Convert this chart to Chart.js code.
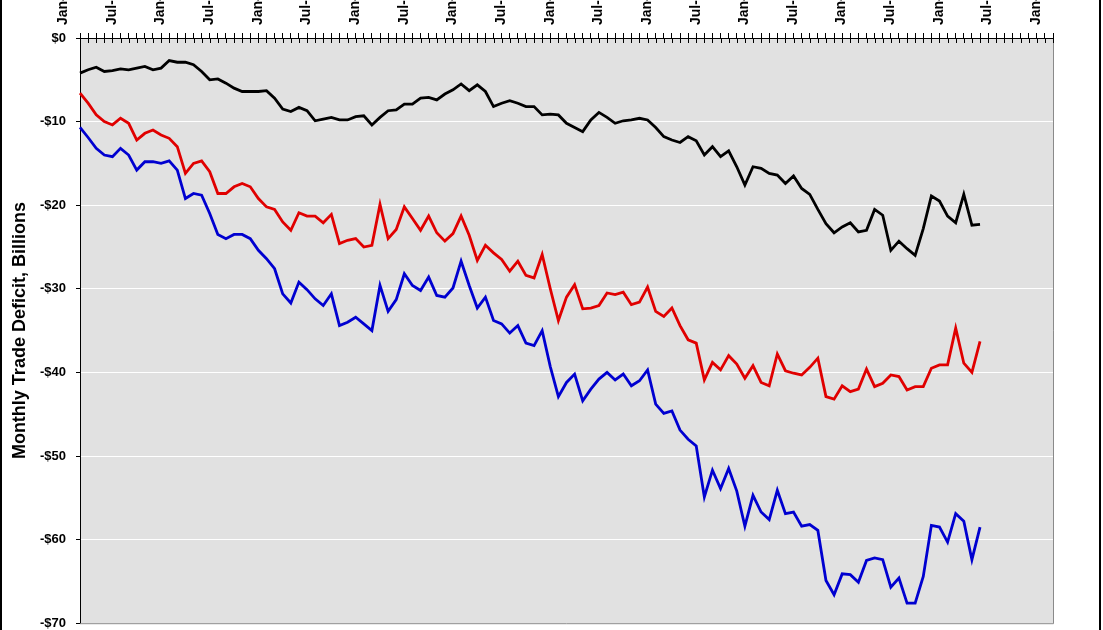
<!DOCTYPE html>
<html><head><meta charset="utf-8">
<script src="https://cdn.jsdelivr.net/npm/chart.js@4.4.1/dist/chart.umd.min.js"></script>
<style>
html,body{margin:0;padding:0;background:#fff;overflow:hidden;width:1103px;height:630px;}
#frame{position:absolute;left:0;top:-20px;width:1101px;height:680px;box-sizing:border-box;border:2px solid #000;}
#wrap{position:absolute;left:0;top:-40px;width:1103px;height:681px;}
</style></head><body>
<div id="frame"></div>
<div id="wrap"><canvas id="c"></canvas></div>
<script>
// Category axis: months Jan-98 .. Jan-08
const years = ['98','99','00','01','02','03','04','05','06','07','08'];
const monthNames = ['Jan','Feb','Mar','Apr','May','Jun','Jul','Aug','Sep','Oct','Nov','Dec'];
const categories = [];
years.forEach(y => monthNames.forEach(m => categories.push(m + '-' + y)));
categories.length = 121;

const yTicks = [0, -10, -20, -30, -40, -50, -60, -70];

// Monthly trade deficit, $ billions
const chinaDeficit = [
 -4.2,-3.8,-3.5,-4.0,-3.9,-3.7,-3.8,-3.6,-3.4,-3.8,-3.6,-2.7,
 -2.9,-2.9,-3.2,-4.0,-5.0,-4.9,-5.4,-6.0,-6.4,-6.4,-6.4,-6.3,
 -7.2,-8.5,-8.8,-8.3,-8.7,-9.9,-9.7,-9.5,-9.8,-9.8,-9.4,-9.3,
 -10.4,-9.5,-8.7,-8.6,-7.9,-7.9,-7.2,-7.1,-7.4,-6.7,-6.2,-5.5,
 -6.3,-5.6,-6.4,-8.2,-7.8,-7.5,-7.8,-8.2,-8.2,-9.2,-9.1,-9.2,
 -10.2,-10.7,-11.2,-9.8,-8.9,-9.5,-10.2,-9.9,-9.8,-9.6,-9.8,-10.7,
 -11.8,-12.2,-12.5,-11.8,-12.3,-14.0,-13.0,-14.2,-13.5,-15.4,-17.6,-15.4,
 -15.6,-16.2,-16.4,-17.4,-16.5,-18.0,-18.7,-20.5,-22.2,-23.3,-22.6,-22.1,
 -23.2,-23.0,-20.5,-21.2,-25.4,-24.3,-25.2,-26.0,-22.8,-18.9,-19.5,-21.3,
 -22.1,-18.7,-22.4,-22.3
];
const exChinaDeficit = [
 -6.6,-7.8,-9.2,-10.0,-10.4,-9.6,-10.2,-12.2,-11.4,-11.0,-11.6,-12.0,
 -13.0,-16.2,-15.0,-14.7,-16.0,-18.6,-18.6,-17.8,-17.4,-17.8,-19.2,-20.2,
 -20.5,-22.0,-23.0,-20.9,-21.3,-21.3,-22.1,-21.1,-24.6,-24.2,-24.0,-25.0,
 -24.8,-19.9,-24.0,-22.9,-20.2,-21.6,-23.0,-21.3,-23.3,-24.3,-23.4,-21.3,
 -23.6,-26.6,-24.8,-25.7,-26.5,-27.9,-26.7,-28.4,-28.7,-25.9,-30.0,-33.8,
 -31.0,-29.5,-32.4,-32.3,-32.0,-30.5,-30.7,-30.4,-31.9,-31.6,-29.8,-32.7,
 -33.3,-32.3,-34.4,-36.1,-36.5,-40.9,-38.8,-39.7,-38.0,-39.0,-40.7,-39.2,
 -41.2,-41.6,-37.8,-39.8,-40.1,-40.3,-39.4,-38.3,-42.9,-43.2,-41.6,-42.3,
 -42.0,-39.6,-41.7,-41.3,-40.3,-40.5,-42.1,-41.7,-41.7,-39.5,-39.1,-39.1,
 -34.7,-38.9,-40.0,-36.3
];
const totalDeficit = [
 -10.7,-11.9,-13.2,-14.0,-14.2,-13.2,-14.0,-15.8,-14.8,-14.8,-15.0,-14.7,
 -15.8,-19.2,-18.6,-18.8,-21.0,-23.5,-24.0,-23.5,-23.5,-24.0,-25.4,-26.4,
 -27.6,-30.6,-31.7,-29.2,-30.1,-31.2,-32.0,-30.6,-34.4,-34.0,-33.4,-34.2,
 -35.0,-29.6,-32.7,-31.3,-28.2,-29.6,-30.2,-28.6,-30.8,-31.0,-29.9,-26.7,
 -29.6,-32.3,-31.0,-33.8,-34.2,-35.3,-34.4,-36.5,-36.8,-35.0,-39.3,-42.9,
 -41.2,-40.2,-43.4,-42.0,-40.8,-40.0,-40.9,-40.2,-41.6,-41.0,-39.7,-43.8,
 -44.9,-44.6,-46.9,-48.0,-48.8,-54.9,-51.7,-53.9,-51.5,-54.2,-58.4,-54.7,
 -56.7,-57.6,-54.1,-56.9,-56.7,-58.4,-58.2,-58.9,-64.9,-66.6,-64.1,-64.2,
 -65.1,-62.5,-62.2,-62.4,-65.7,-64.6,-67.6,-67.6,-64.4,-58.3,-58.5,-60.3,
 -56.9,-57.8,-62.4,-58.5
];

const FONT = "'Liberation Sans', Arial, sans-serif";

const plotDecor = {
  id: 'plotDecor',
  beforeDraw(chart) {
    const {ctx, chartArea: a} = chart;
    ctx.save();
    ctx.fillStyle = '#e1e1e1';
    ctx.fillRect(a.left, a.top, a.right - a.left, a.bottom - a.top);
    ctx.restore();
  },
  beforeDatasetsDraw(chart) {
    const {ctx, chartArea: a} = chart;
    ctx.save();
    ctx.strokeStyle = '#8a8a8a';
    ctx.lineWidth = 1;
    ctx.beginPath();
    ctx.moveTo(a.right + 0.5, a.top);
    ctx.lineTo(a.right + 0.5, a.bottom + 0.5);
    ctx.lineTo(a.left, a.bottom + 0.5);
    ctx.stroke();
    // inner halves of the top-axis tick marks
    const xs = chart.scales.x;
    ctx.strokeStyle = '#000';
    ctx.beginPath();
    for (let i = 0; i < xs.ticks.length; i++) {
      const px = Math.round(xs.getPixelForTick(i)) + 0.5;
      ctx.moveTo(px, a.top);
      ctx.lineTo(px, a.top + 5);
    }
    ctx.stroke();
    ctx.restore();
  }
};

new Chart(document.getElementById('c'), {
  type: 'line',
  data: {
    labels: categories,
    datasets: [
      {label: 'Deficit with China', data: chinaDeficit, borderColor: '#000000'},
      {label: 'Deficit excluding China', data: exChinaDeficit, borderColor: '#e00000'},
      {label: 'Total deficit', data: totalDeficit, borderColor: '#0000d0'}
    ].map(d => Object.assign(d, {borderWidth: 2.8, pointRadius: 0, tension: 0, fill: false}))
  },
  options: {
    responsive: true,
    maintainAspectRatio: false,
    animation: false,
    layout: {padding: {left: 0, right: 50, top: 0, bottom: 8}},
    plugins: {legend: {display: false}, tooltip: {enabled: false}},
    scales: {
      x: {
        type: 'category',
        position: 'top',
        offset: false,
        afterFit(s) { s.height = 78; },
        border: {display: true, color: '#000', width: 1},
        grid: {display: true, drawOnChartArea: false, drawTicks: true, tickLength: 5, tickColor: '#000', color: '#000'},
        ticks: {
          autoSkip: false,
          minRotation: 90,
          maxRotation: 90,
          padding: 8,
          color: '#000',
          font: {family: FONT, size: 14, weight: 'bold'},
          callback(v, i) { return (i % 6 === 0) ? this.getLabelForValue(v) : ''; }
        }
      },
      y: {
        min: yTicks[yTicks.length - 1],
        max: yTicks[0],
        afterFit(s) { s.width = 80; },
        afterBuildTicks(s) { s.ticks = yTicks.map(v => ({value: v})); },
        border: {display: true, color: '#000', width: 1},
        grid: {color: '#ffffff', lineWidth: 1, tickLength: 4, tickColor: '#000'},
        ticks: {
          padding: 10,
          color: '#000',
          font: {family: FONT, size: 13, weight: 'bold'},
          callback(v) { return v === 0 ? '$0' : '-$' + Math.abs(v); }
        },
        title: {
          display: true,
          text: 'Monthly Trade Deficit, Billions',
          color: '#000',
          font: {family: FONT, size: 18, weight: 'bold'},
          padding: {top: 9, bottom: 0}
        }
      }
    }
  },
  plugins: [plotDecor]
});
</script>
</body></html>
